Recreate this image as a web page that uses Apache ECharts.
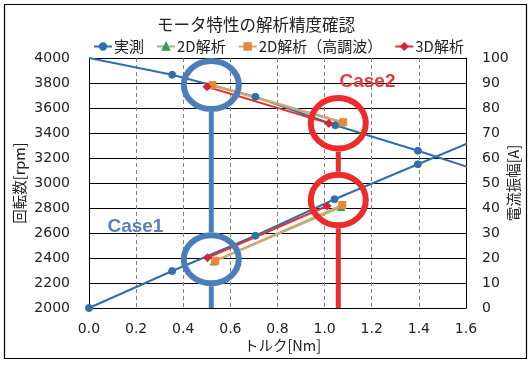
<!DOCTYPE html>
<html><head><meta charset="utf-8">
<script src="https://cdn.jsdelivr.net/npm/echarts@6/dist/echarts.min.js"></script>
<style>html,body{margin:0;padding:0;background:#fff}#c{width:532px;height:365px}</style>
</head><body><div id="c"></div>
<script>
// ---- data ----
const titleText = 'モータ特性の解析精度確認';
const seriesNames = ['実測', '2D解析', '2D解析（高調波）', '3D解析'];
// torque [Nm], speed [rpm]
const measSpeed = [[0, 4000], [0.353, 3866], [0.706, 3690], [1.045, 3462], [1.396, 3258], [1.75, 3040]];
// torque [Nm], current [A]
const measCurrent = [[0, 0], [0.353, 14.8], [0.706, 28.9], [1.042, 43.5], [1.396, 57.5], [1.75, 71.5]];
const fem2dSpeed = [[0.520, 3782], [1.072, 3484]];
const fem2dCurrent = [[0.530, 18.6], [1.070, 40.4]];
const fem2dHSpeed = [[0.524, 3784], [1.079, 3486]];
const fem2dHCurrent = [[0.536, 18.9], [1.075, 41.2]];
const fem3dSpeed = [[0.501, 3770], [1.018, 3477]];
const fem3dCurrent = [[0.503, 20.1], [1.011, 40.8]];
// annotations
const caseNames = ['Case1', 'Case2'];
const caseTorque = [0.519, 1.058];
const caseSpeed = [3784, 3478];
const caseCurrent = [19.5, 43.2];
const caseLabelTorque = [0.197, 1.182];
const caseLabelSpeed = [2650, 3810];

const numFont = 'DejaVu Sans';
const jpFont = "'Noto Sans CJK JP', 'Noto Sans', sans-serif";

const chart = echarts.init(document.getElementById('c'));

const measColor = '#2E6FAE';
const c2d = '#3E9B52', c2dLine = '#93C47D';
const c2dH = '#E8873A', c2dHLine = '#D6A46C';
const c3d = '#D4243A', c3dLine = '#E8302F';

function lineSeries(name, data, yIdx, color, lineColor, symbol, size, firstNone) {
  return {
    name, type: 'line', yAxisIndex: yIdx, clip: true,
    data: data.map((p, i) => (firstNone && i === 0) ? {value: p, symbol: 'none'} : p),
    symbol, symbolSize: size, showSymbol: true,
    lineStyle: {color: lineColor, width: 2},
    itemStyle: {color: color, borderColor: color, borderWidth: 1},
    emphasis: {disabled: true}, z: 3
  };
}

chart.setOption({
  animation: false,
  backgroundColor: '#fff',
  title: {
    text: titleText, left: 251, top: 11, textAlign: 'center',
    textStyle: {fontFamily: jpFont, fontSize: 16.5, fontWeight: 'normal', color: '#222'}
  },
  legend: {
    data: seriesNames, left: 88, top: 34, itemWidth: 18, itemHeight: 8, itemGap: 12,
    textStyle: {fontFamily: jpFont, fontSize: 15, color: '#222', padding: [0, 0, 0, -3]}
  },
  grid: {left: 89, right: 66, top: 58, bottom: 57, containLabel: false, outerBoundsMode: 'none'},
  xAxis: {
    type: 'value', min: 0, max: 1.6, interval: 0.2,
    name: 'トルク[Nm]', nameLocation: 'middle', nameGap: 30, nameMoveOverlap: false,
    nameTextStyle: {fontFamily: jpFont, fontSize: 14.5, color: '#222', padding: [0, 0, 0, 10]},
    axisLine: {show: true, lineStyle: {color: '#000', width: 1}},
    axisTick: {show: false},
    axisLabel: {formatter: v => v.toFixed(1), fontFamily: numFont, fontSize: 14, color: '#222', margin: 14},
    splitLine: {show: true, lineStyle: {color: '#808080', type: [4, 3], width: 1}}
  },
  yAxis: [
    {
      type: 'value', min: 2000, max: 4000, interval: 200,
      name: '回転数[rpm]', nameLocation: 'middle', nameRotate: 90, nameGap: 62, nameMoveOverlap: false,
      nameTextStyle: {fontFamily: jpFont, fontSize: 14.5, color: '#222'},
      axisLine: {show: true, lineStyle: {color: '#000', width: 1}},
      axisTick: {show: false},
      axisLabel: {formatter: v => String(v), fontFamily: numFont, fontSize: 14, color: '#222', margin: 19},
      splitLine: {show: true, lineStyle: {color: '#000', width: 1}}
    },
    {
      type: 'value', min: 0, max: 100, interval: 10, position: 'right',
      name: '電流振幅[A]', nameLocation: 'middle', nameRotate: 90, nameGap: 40, nameMoveOverlap: false,
      nameTextStyle: {fontFamily: jpFont, fontSize: 14.5, color: '#222'},
      axisLine: {show: true, lineStyle: {color: '#000', width: 1}},
      axisTick: {show: false},
      axisLabel: {formatter: v => String(v), fontFamily: numFont, fontSize: 14, color: '#222', margin: 16},
      splitLine: {show: false}
    }
  ],
  series: [
    lineSeries(seriesNames[0], measSpeed, 0, measColor, measColor, 'circle', 7, true),
    lineSeries(seriesNames[0], measCurrent, 1, measColor, measColor, 'circle', 7, false),
    lineSeries(seriesNames[1], fem2dSpeed, 0, c2d, c2dLine, 'triangle', 7, false),
    lineSeries(seriesNames[1], fem2dCurrent, 1, c2d, c2dLine, 'triangle', 7, false),
    lineSeries(seriesNames[2], fem2dHSpeed, 0, c2dH, c2dHLine, 'rect', 7, false),
    lineSeries(seriesNames[2], fem2dHCurrent, 1, c2dH, c2dHLine, 'rect', 7, false),
    lineSeries(seriesNames[3], fem3dSpeed, 0, c3d, c3dLine, 'diamond', 8, false),
    lineSeries(seriesNames[3], fem3dCurrent, 1, c3d, c3dLine, 'diamond', 8, false)
  ]
});

// annotation overlay computed from data coordinates
const annColors = ['#4A7EBB', '#EE2B2B'];
const textColors = ['#5B80B8', '#E8383D'];
const rx = [27.5, 27.5], ry = [24, 25.3];
const graphics = [{
  type: 'rect', shape: {x: 4.5, y: 4.5, width: 522, height: 354},
  style: {fill: 'none', stroke: '#000', lineWidth: 1.2}, z: 0, silent: true
}];
const yBottom = chart.convertToPixel({yAxisIndex: 0}, 2000);
for (let i = 0; i < caseNames.length; i++) {
  const [x1, y1] = chart.convertToPixel({xAxisIndex: 0, yAxisIndex: 0}, [caseTorque[i], caseSpeed[i]]);
  const [x2, y2] = chart.convertToPixel({xAxisIndex: 0, yAxisIndex: 1}, [caseTorque[i], caseCurrent[i]]);
  const col = annColors[i];
  const rO = ry[i] + 3;
  graphics.push({type: 'line', shape: {x1: x1, y1: y1 + rO, x2: x2, y2: y2 - rO}, style: {stroke: col, lineWidth: 5}, z: 100, silent: true});
  graphics.push({type: 'line', shape: {x1: x2, y1: y2 + rO, x2: x2, y2: yBottom}, style: {stroke: col, lineWidth: 5}, z: 100, silent: true});
  graphics.push({type: 'ellipse', shape: {cx: x1, cy: y1, rx: rx[i], ry: ry[i]}, style: {fill: 'none', stroke: col, lineWidth: 6}, z: 100, silent: true});
  graphics.push({type: 'ellipse', shape: {cx: x2, cy: y2, rx: rx[i], ry: ry[i]}, style: {fill: 'none', stroke: col, lineWidth: 6}, z: 100, silent: true});
  const [tx, ty] = chart.convertToPixel({xAxisIndex: 0, yAxisIndex: 0}, [caseLabelTorque[i], caseLabelSpeed[i]]);
  graphics.push({type: 'text', x: tx, y: ty, style: {text: caseNames[i], fill: textColors[i], font: 'bold 19px "Liberation Sans", Arial, sans-serif', align: 'center', verticalAlign: 'middle'}, z: 101, silent: true});
}
chart.setOption({graphic: graphics});
</script>
</body></html>
